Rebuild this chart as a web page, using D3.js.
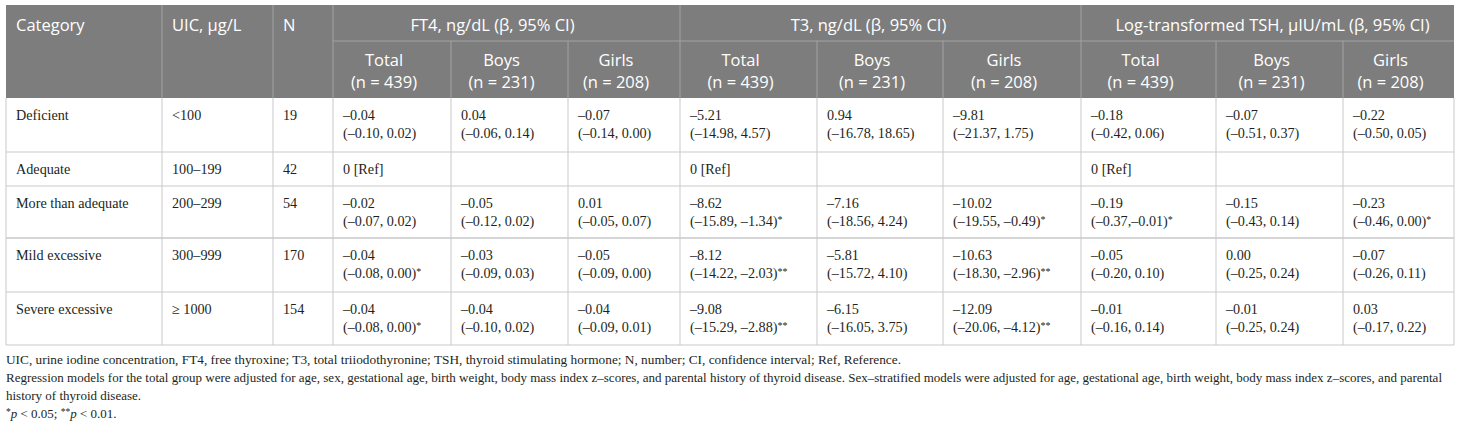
<!DOCTYPE html>
<html>
<head>
<meta charset="utf-8">
<script src="https://cdn.jsdelivr.net/npm/d3@7"></script>
<style>
  body { margin: 0; background: #fff; }
  .hd { font-family: "Open Sans", sans-serif; font-size: 16.5px; fill: #fff; }
  .bd { font-family: "Liberation Serif", serif; font-size: 14.2px; fill: #231f20; }
  .fn { font-family: "Liberation Serif", serif; font-size: 13px; fill: #231f20; }
</style>
</head>
<body>
<div id="table"></div>
<script>
// ---- data ----
const categories = ["Deficient", "Adequate", "More than adequate", "Mild excessive", "Severe excessive"];
const uic = ["<100", "100–199", "200–299", "300–999", "≥ 1000"];
const nCount = ["19", "42", "54", "170", "154"];

const groups = ["FT4, ng/dL (β, 95% CI)", "T3, ng/dL (β, 95% CI)", "Log-transformed TSH, µIU/mL (β, 95% CI)"];
const subgroups = ["Total", "Boys", "Girls"];
const subgroupN = ["(n = 439)", "(n = 231)", "(n = 208)"];

// each cell: [estimate, CI, significance]
const ft4Total = [["–0.04", "(–0.10, 0.02)", ""], ["0 [Ref]", "", ""], ["–0.02", "(–0.07, 0.02)", ""], ["–0.04", "(–0.08, 0.00)", "*"], ["–0.04", "(–0.08, 0.00)", "*"]];
const ft4Boys = [["0.04", "(–0.06, 0.14)", ""], ["", "", ""], ["–0.05", "(–0.12, 0.02)", ""], ["–0.03", "(–0.09, 0.03)", ""], ["–0.04", "(–0.10, 0.02)", ""]];
const ft4Girls = [["–0.07", "(–0.14, 0.00)", ""], ["", "", ""], ["0.01", "(–0.05, 0.07)", ""], ["–0.05", "(–0.09, 0.00)", ""], ["–0.04", "(–0.09, 0.01)", ""]];
const t3Total = [["–5.21", "(–14.98, 4.57)", ""], ["0 [Ref]", "", ""], ["–8.62", "(–15.89, –1.34)", "*"], ["–8.12", "(–14.22, –2.03)", "**"], ["–9.08", "(–15.29, –2.88)", "**"]];
const t3Boys = [["0.94", "(–16.78, 18.65)", ""], ["", "", ""], ["–7.16", "(–18.56, 4.24)", ""], ["–5.81", "(–15.72, 4.10)", ""], ["–6.15", "(–16.05, 3.75)", ""]];
const t3Girls = [["–9.81", "(–21.37, 1.75)", ""], ["", "", ""], ["–10.02", "(–19.55, –0.49)", "*"], ["–10.63", "(–18.30, –2.96)", "**"], ["–12.09", "(–20.06, –4.12)", "**"]];
const tshTotal = [["–0.18", "(–0.42, 0.06)", ""], ["0 [Ref]", "", ""], ["–0.19", "(–0.37,–0.01)", "*"], ["–0.05", "(–0.20, 0.10)", ""], ["–0.01", "(–0.16, 0.14)", ""]];
const tshBoys = [["–0.07", "(–0.51, 0.37)", ""], ["", "", ""], ["–0.15", "(–0.43, 0.14)", ""], ["0.00", "(–0.25, 0.24)", ""], ["–0.01", "(–0.25, 0.24)", ""]];
const tshGirls = [["–0.22", "(–0.50, 0.05)", ""], ["", "", ""], ["–0.23", "(–0.46, 0.00)", "*"], ["–0.07", "(–0.26, 0.11)", ""], ["0.03", "(–0.17, 0.22)", ""]];

const footnotes = [
  "UIC, urine iodine concentration, FT4, free thyroxine; T3, total triiodothyronine; TSH, thyroid stimulating hormone; N, number; CI, confidence interval; Ref, Reference.",
  "Regression models for the total group were adjusted for age, sex, gestational age, birth weight, body mass index z–scores, and parental history of thyroid disease. Sex–stratified models were adjusted for age, gestational age, birth weight, body mass index z–scores, and parental",
  "history of thyroid disease."
];

// ---- layout ----
const W = 1460, H = 424;
const colWidths = [156, 111, 60, 118, 117, 112, 137, 126, 138, 135, 127, 111];
const rowHeights = [54, 34, 52, 54, 53];
const tLeft = 6, tTop = 5, head1 = 36, head2 = 57;
const groupShift = [-14, -12, 5];
const footWidths = [895, 1436, null];

const colEdges = [tLeft].concat(Array.from(d3.cumsum(colWidths), d => tLeft + d));
const bodyTop = tTop + head1 + head2;
const rowEdges = [bodyTop].concat(Array.from(d3.cumsum(rowHeights), d => bodyTop + d));
const tRight = colEdges[colEdges.length - 1];

const x = d3.scaleOrdinal().domain(d3.range(colEdges.length)).range(colEdges);
const y = d3.scaleOrdinal().domain(d3.range(rowEdges.length)).range(rowEdges);

const valueCols = [ft4Total, ft4Boys, ft4Girls, t3Total, t3Boys, t3Girls, tshTotal, tshBoys, tshGirls];

const svg = d3.select("#table")
  .append("svg")
  .attr("width", W)
  .attr("height", H);

// header background
svg.append("rect")
  .attr("x", tLeft).attr("y", tTop)
  .attr("width", tRight - tLeft).attr("height", head1 + head2)
  .attr("fill", "#7d7d7d");

// header lines
const hline = "#a3a3a3";
svg.append("line")
  .attr("x1", x(3)).attr("x2", tRight)
  .attr("y1", tTop + head1).attr("y2", tTop + head1)
  .attr("stroke", hline);
[1, 2, 3, 6, 9].forEach(i => {
  svg.append("line")
    .attr("x1", x(i)).attr("x2", x(i))
    .attr("y1", tTop).attr("y2", bodyTop)
    .attr("stroke", hline);
});
[4, 5, 7, 8, 10, 11].forEach(i => {
  svg.append("line")
    .attr("x1", x(i)).attr("x2", x(i))
    .attr("y1", tTop + head1).attr("y2", bodyTop)
    .attr("stroke", hline);
});

// header text
["Category", "UIC, µg/L", "N"].forEach((t, i) => {
  svg.append("text").attr("class", "hd")
    .attr("x", x(i) + 10).attr("y", tTop + 26)
    .text(t);
});
groups.forEach((g, i) => {
  svg.append("text").attr("class", "hd")
    .attr("x", (x(3 + i * 3) + x(6 + i * 3)) / 2 + groupShift[i])
    .attr("y", tTop + 26)
    .attr("text-anchor", "middle")
    .text(g);
});
d3.range(9).forEach(j => {
  const cx = (x(3 + j) + x(4 + j)) / 2 - 8;
  svg.append("text").attr("class", "hd")
    .attr("x", cx).attr("y", tTop + head1 + 25)
    .attr("text-anchor", "middle")
    .text(subgroups[j % 3]);
  svg.append("text").attr("class", "hd")
    .attr("x", cx).attr("y", tTop + head1 + 47)
    .attr("text-anchor", "middle")
    .text(subgroupN[j % 3]);
});

// body grid
const grid = "#c9c9c9";
d3.range(1, rowEdges.length).forEach(r => {
  svg.append("line")
    .attr("x1", tLeft).attr("x2", tRight)
    .attr("y1", y(r)).attr("y2", y(r))
    .attr("stroke", grid)
    .attr("stroke-width", r === 3 ? 1.6 : 1);
});
colEdges.forEach((c, i) => {
  svg.append("line")
    .attr("x1", x(i)).attr("x2", x(i))
    .attr("y1", bodyTop).attr("y2", y(rowEdges.length - 1))
    .attr("stroke", grid);
});

// body text
const pad = 10, line1 = 22, lineH = 18;
[categories, uic, nCount].forEach((col, c) => {
  col.forEach((t, r) => {
    svg.append("text").attr("class", "bd")
      .attr("x", x(c) + pad).attr("y", y(r) + line1)
      .text(t);
  });
});
valueCols.forEach((col, j) => {
  col.forEach((cell, r) => {
    const tx = x(3 + j) + pad;
    svg.append("text").attr("class", "bd")
      .attr("x", tx).attr("y", y(r) + line1)
      .text(cell[0]);
    if (cell[1]) {
      const t = svg.append("text").attr("class", "bd")
        .attr("x", tx).attr("y", y(r) + line1 + lineH);
      t.append("tspan").text(cell[1]);
      if (cell[2]) {
        t.append("tspan")
          .attr("font-size", "10px")
          .attr("dy", -3)
          .text(cell[2]);
      }
    }
  });
});

// footnotes
const fnTop = y(rowEdges.length - 1) + 19;
footnotes.forEach((f, i) => {
  const t = svg.append("text").attr("class", "fn")
    .attr("x", tLeft).attr("y", fnTop + i * 18)
    .text(f);
  if (footWidths[i]) {
    t.attr("textLength", footWidths[i]).attr("lengthAdjust", "spacingAndGlyphs");
  }
});
const sig = svg.append("text").attr("class", "fn")
  .attr("x", tLeft).attr("y", fnTop + footnotes.length * 18);
sig.append("tspan").attr("font-size", "9.5px").attr("dy", -3).text("*");
sig.append("tspan").attr("font-style", "italic").attr("dy", 3).text("p");
sig.append("tspan").text(" < 0.05; ");
sig.append("tspan").attr("font-size", "9.5px").attr("dy", -3).text("**");
sig.append("tspan").attr("font-style", "italic").attr("dy", 3).text("p");
sig.append("tspan").text(" < 0.01.");
</script>
</body>
</html>
